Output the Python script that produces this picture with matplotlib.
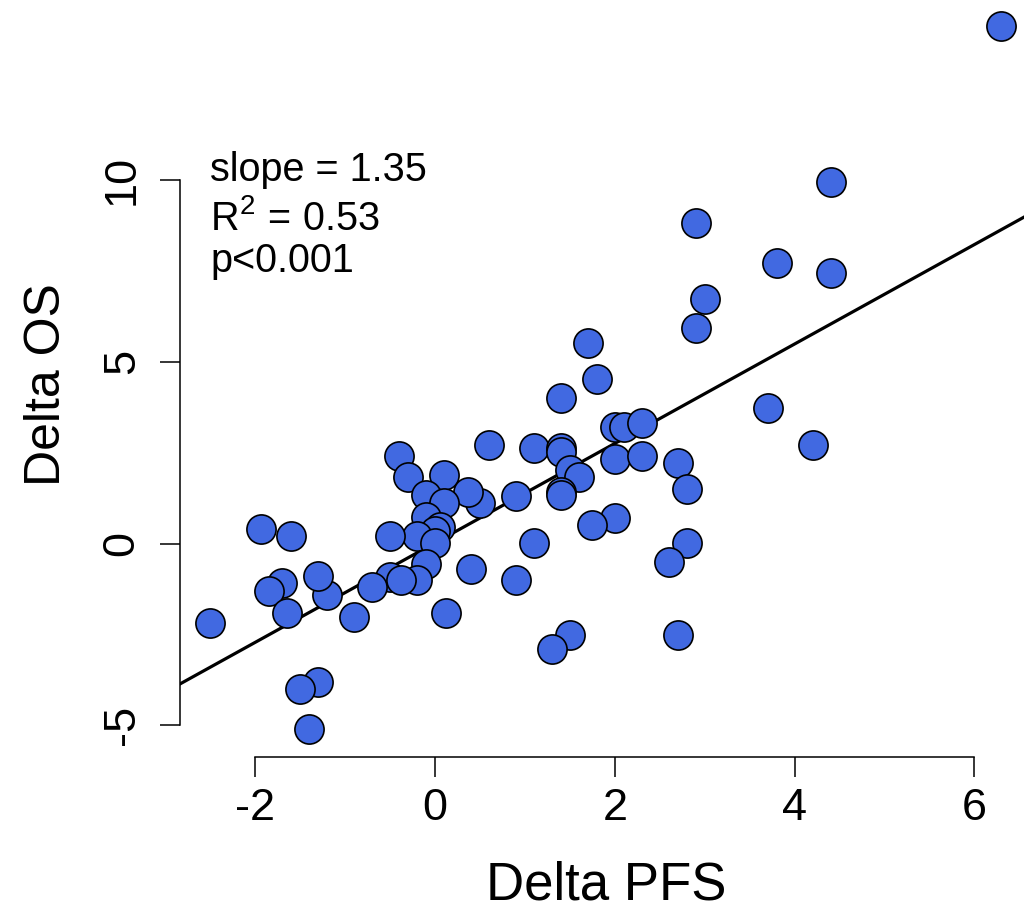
import numpy as np
import matplotlib
matplotlib.use("Agg")
import matplotlib.pyplot as plt

plt.rcParams['font.family'] = ['Liberation Sans', 'DejaVu Sans']
plt.rcParams['mathtext.fontset'] = 'custom'
plt.rcParams['mathtext.rm'] = 'Liberation Sans'
plt.rcParams['mathtext.it'] = 'Liberation Sans'

delta_pfs = [6.30, 4.40, 2.90, 3.80, 4.40, 3.00, 2.90, 1.70, 1.80, 1.40,
             3.70, 4.20, 2.00, 2.10, 2.30, 2.00, 2.30, 2.70, 2.80, 2.00,
             1.75, 2.80, 2.60, 2.70, 1.50, 1.30, 0.60, 1.10, 1.40, 1.40,
             1.50, 1.60, 1.40, 1.40, 0.90, 0.50, 1.10, 0.40, 0.90, -0.40,
             -0.30, 0.10, -0.10, 0.37, 0.10, -0.10, 0.05, 0.00, -0.20, -0.50,
             0.00, -0.10, 0.12, -0.50, -0.20, -0.38, -0.70, -1.20, -1.70, -1.85,
             -1.65, -1.30, -0.90, -2.50, -1.93, -1.60, -1.30, -1.50, -1.40]
delta_os = [14.25, 9.94, 8.83, 7.73, 7.44, 6.73, 5.92, 5.53, 4.52, 4.01,
            3.72, 2.71, 3.22, 3.22, 3.33, 2.32, 2.41, 2.21, 1.51, 0.71,
            0.51, 0.01, -0.50, -2.50, -2.50, -2.90, 2.71, 2.64, 2.62, 2.53,
            2.02, 1.83, 1.43, 1.34, 1.31, 1.12, 0.02, -0.70, -1.00, 2.42,
            1.82, 1.88, 1.34, 1.41, 1.11, 0.74, 0.45, 0.35, 0.22, 0.22,
            0.02, -0.56, -1.90, -0.93, -1.00, -1.00, -1.19, -1.41, -1.09, -1.29,
            -1.90, -0.89, -2.01, -2.19, 0.40, 0.21, -3.80, -4.01, -5.11]

# regression line as drawn in the reference
line_slope = 1.368
line_intercept = 0.02

x_ticks = [-2, 0, 2, 4, 6]
y_ticks = [-5, 0, 5, 10]
stats_lines = ["slope = 1.35", r"R$^{2}$$\,=\,$0.53", "p<0.001"]

x = np.array(delta_pfs)
y = np.array(delta_os)

W, H = 1024, 906
fig = plt.figure(figsize=(W / 100, H / 100), dpi=100)
left_px, right_px = 179.5, 1033.5
bottom_px = 757
xlim = (-2.842, 6.657)
ylim = (-5.87, 15.0)
px_per_y = 36.35
top_px = bottom_px - (ylim[1] - ylim[0]) * px_per_y
ax = fig.add_axes([left_px / W, 1 - bottom_px / H, (right_px - left_px) / W,
                   (bottom_px - top_px) / H])
ax.set_xlim(*xlim)
ax.set_ylim(*ylim)

xx = np.array(xlim)
ax.plot(xx, line_intercept + line_slope * xx, color='black', lw=2.3, zorder=2)
ax.plot(x, y, 'o', ms=21, mfc='#4169E1', mec='black', mew=1.2, zorder=3,
        clip_on=False)

for s in ['top', 'right']:
    ax.spines[s].set_visible(False)
for s in ['left', 'bottom']:
    ax.spines[s].set_linewidth(1.1)
ax.spines['left'].set_bounds(-5, 10)
ax.spines['bottom'].set_bounds(-2, 6)
ax.set_xticks(x_ticks)
ax.set_yticks(y_ticks)
ax.set_xticklabels([str(t) for t in x_ticks])
ax.set_yticklabels([str(t) for t in y_ticks], rotation=90, va='center')
ax.tick_params(axis='both', direction='out', length=14.5, width=1.1,
               labelsize=32.5)
ax.tick_params(axis='x', pad=8)
ax.tick_params(axis='y', pad=12)

fig.text(606 / W, 1 - 899 / H, 'Delta PFS', fontsize=38, ha='center',
         va='baseline')
fig.text(60 / W, 1 - 385 / H, 'Delta OS', fontsize=36, rotation=90,
         rotation_mode='anchor', ha='center', va='baseline')

ys = [9.98, 8.63, 7.48]
for t, yy in zip(stats_lines, ys):
    ax.text(-2.5, yy, t, fontsize=28.5, ha='left', va='baseline')

fig.savefig('out.png', dpi=100)
